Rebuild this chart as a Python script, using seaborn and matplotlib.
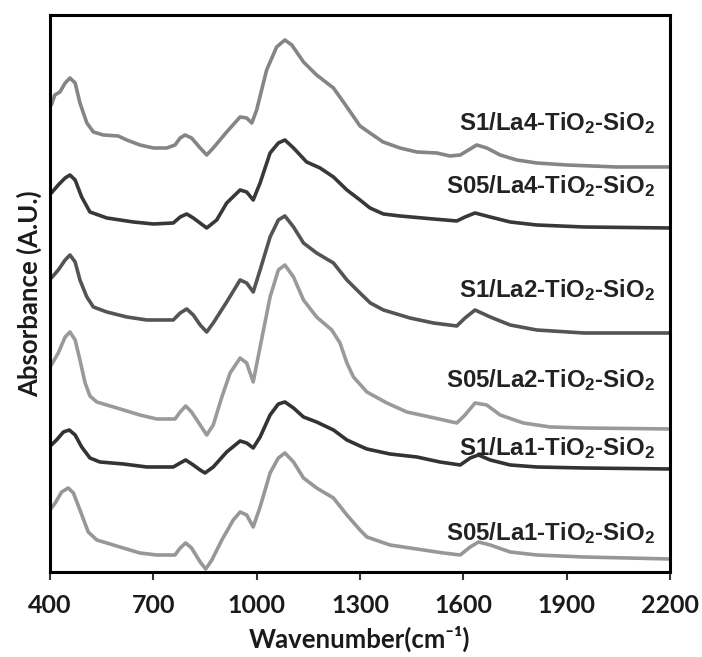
import matplotlib
matplotlib.use("Agg")
import matplotlib.pyplot as plt
import seaborn as sns
import pandas as pd

# FTIR spectra (wavenumber in cm^-1, stacked absorbance in arbitrary units)
SAMPLES = [
    "S1/La4-TiO$_2$-SiO$_2$",
    "S05/La4-TiO$_2$-SiO$_2$",
    "S1/La2-TiO$_2$-SiO$_2$",
    "S05/La2-TiO$_2$-SiO$_2$",
    "S1/La1-TiO$_2$-SiO$_2$",
    "S05/La1-TiO$_2$-SiO$_2$",
]

WN_S1_LA4 = [404, 414, 429, 444, 458, 473, 487, 507, 526, 555, 598, 623, 661, 700, 739, 763, 778, 792, 811, 836,
             855, 874, 913, 952, 971, 986, 1000, 1029, 1058, 1082, 1102, 1136, 1174, 1223, 1262, 1300, 1329, 1367,
             1416, 1465, 1523, 1561, 1591, 1615, 1639, 1668, 1707, 1755, 1813, 1900, 2045, 2200]
A_S1_LA4 = [4.67, 4.77, 4.80, 4.89, 4.94, 4.89, 4.69, 4.49, 4.40, 4.37, 4.36, 4.32, 4.27, 4.24, 4.24, 4.27, 4.34,
            4.37, 4.34, 4.24, 4.17, 4.24, 4.40, 4.55, 4.54, 4.49, 4.62, 5.02, 5.25, 5.32, 5.27, 5.10, 4.97, 4.84,
            4.65, 4.46, 4.39, 4.30, 4.24, 4.20, 4.19, 4.16, 4.17, 4.22, 4.27, 4.24, 4.17, 4.12, 4.09, 4.07, 4.05, 4.05]

WN_S05_LA4 = [404, 424, 444, 458, 473, 492, 516, 565, 642, 700, 758, 778, 797, 816, 855, 884, 913, 952, 971, 990,
              1010, 1039, 1063, 1082, 1107, 1145, 1184, 1223, 1262, 1300, 1329, 1368, 1416, 1513, 1581, 1605, 1634,
              1678, 1736, 1813, 1949, 2200]
A_S05_LA4 = [3.79, 3.87, 3.94, 3.97, 3.92, 3.75, 3.60, 3.54, 3.50, 3.48, 3.49, 3.55, 3.58, 3.54, 3.44, 3.52, 3.69,
             3.82, 3.80, 3.72, 3.89, 4.19, 4.29, 4.32, 4.24, 4.10, 4.04, 3.95, 3.82, 3.72, 3.64, 3.58, 3.56, 3.53,
             3.51, 3.55, 3.59, 3.55, 3.50, 3.47, 3.45, 3.44]

WN_S1_LA2 = [404, 424, 444, 458, 473, 487, 507, 526, 565, 623, 681, 758, 778, 797, 816, 836, 855, 874, 913, 952,
             971, 990, 1010, 1039, 1063, 1082, 1107, 1136, 1174, 1223, 1262, 1300, 1330, 1368, 1445, 1513, 1581,
             1605, 1634, 1678, 1736, 1813, 1949, 2200]
A_S1_LA2 = [2.94, 3.02, 3.12, 3.17, 3.10, 2.92, 2.75, 2.65, 2.60, 2.55, 2.52, 2.52, 2.59, 2.63, 2.57, 2.47, 2.40,
            2.49, 2.70, 2.92, 2.89, 2.80, 3.02, 3.35, 3.52, 3.56, 3.45, 3.29, 3.19, 3.09, 2.92, 2.79, 2.69, 2.62,
            2.54, 2.49, 2.46, 2.54, 2.62, 2.55, 2.47, 2.42, 2.39, 2.39]

WN_S05_LA2 = [404, 424, 444, 458, 473, 487, 502, 516, 536, 594, 661, 710, 763, 778, 794, 811, 836, 855, 874, 899,
              923, 952, 971, 990, 1010, 1039, 1063, 1082, 1107, 1136, 1174, 1218, 1242, 1262, 1281, 1320, 1378,
              1436, 1503, 1581, 1605, 1634, 1668, 1707, 1774, 1852, 1949, 2200]
A_S05_LA2 = [2.07, 2.19, 2.35, 2.40, 2.32, 2.12, 1.89, 1.76, 1.70, 1.64, 1.57, 1.53, 1.53, 1.60, 1.66, 1.60, 1.47,
             1.37, 1.47, 1.75, 1.99, 2.14, 2.09, 1.90, 2.25, 2.75, 3.02, 3.07, 2.95, 2.72, 2.55, 2.42, 2.29, 2.09,
             1.95, 1.80, 1.69, 1.60, 1.55, 1.49, 1.57, 1.69, 1.67, 1.57, 1.49, 1.45, 1.44, 1.43]

WN_S1_LA1 = [404, 419, 439, 456, 473, 492, 516, 545, 613, 681, 758, 778, 794, 816, 836, 850, 874, 913, 952, 971,
             990, 1010, 1039, 1063, 1082, 1107, 1136, 1174, 1223, 1262, 1300, 1320, 1387, 1465, 1532, 1591, 1620,
             1644, 1678, 1736, 1813, 1949, 2200]
A_S1_LA1 = [1.27, 1.32, 1.40, 1.42, 1.37, 1.25, 1.14, 1.10, 1.08, 1.05, 1.05, 1.09, 1.12, 1.07, 1.02, 0.99, 1.05,
            1.20, 1.31, 1.29, 1.24, 1.35, 1.57, 1.68, 1.70, 1.64, 1.55, 1.50, 1.42, 1.32, 1.26, 1.23, 1.18, 1.15,
            1.10, 1.07, 1.14, 1.17, 1.12, 1.07, 1.05, 1.04, 1.03]

WN_S05_LA1 = [400, 415, 434, 453, 468, 487, 511, 536, 603, 661, 710, 763, 778, 794, 811, 836, 852, 870, 899, 932,
              952, 971, 990, 1010, 1039, 1063, 1082, 1107, 1136, 1174, 1223, 1262, 1300, 1320, 1387, 1465, 1542,
              1591, 1620, 1644, 1678, 1736, 1813, 1949, 2200]
A_S05_LA1 = [0.62, 0.69, 0.80, 0.84, 0.79, 0.62, 0.40, 0.32, 0.25, 0.19, 0.17, 0.17, 0.24, 0.29, 0.24, 0.10, 0.03,
             0.12, 0.32, 0.52, 0.60, 0.57, 0.45, 0.65, 0.99, 1.14, 1.19, 1.10, 0.94, 0.84, 0.74, 0.57, 0.42, 0.35,
             0.27, 0.23, 0.19, 0.17, 0.25, 0.30, 0.27, 0.20, 0.17, 0.15, 0.13]

X_TICKS = [400, 700, 1000, 1300, 1600, 1900, 2200]

SPECTRA = [
    (WN_S1_LA4, A_S1_LA4),
    (WN_S05_LA4, A_S05_LA4),
    (WN_S1_LA2, A_S1_LA2),
    (WN_S05_LA2, A_S05_LA2),
    (WN_S1_LA1, A_S1_LA1),
    (WN_S05_LA1, A_S05_LA1),
]

COLORS = ["#858585", "#383838", "#545454", "#9a9a9a", "#333333", "#979797"]
# baseline height of each sample label, in absorbance units
LABEL_Y = [4.42, 3.79, 2.75, 1.85, 1.17, 0.32]

rows = []
for name, (wn, ab) in zip(SAMPLES, SPECTRA):
    for w, a in zip(wn, ab):
        rows.append({"sample": name, "wavenumber": w, "absorbance": a})
df = pd.DataFrame(rows)

sns.set_theme(style="white")
plt.rcParams["font.family"] = ["Liberation Sans", "DejaVu Sans"]
plt.rcParams["mathtext.fontset"] = "custom"
plt.rcParams["mathtext.rm"] = "Liberation Sans:bold"
plt.rcParams["mathtext.it"] = "Liberation Sans:bold"
plt.rcParams["mathtext.bf"] = "Liberation Sans:bold"
plt.rcParams["mathtext.default"] = "rm"

fig = plt.figure(figsize=(7.02, 6.57), dpi=100)
ax = fig.add_axes([0.0712, 0.1294, 0.8832, 0.8478])

sns.lineplot(
    data=df, x="wavenumber", y="absorbance", hue="sample",
    palette=dict(zip(SAMPLES, COLORS)), hue_order=SAMPLES,
    estimator=None, sort=False, legend=False, linewidth=2.6, ax=ax,
)
for line in ax.get_lines():
    line.set_solid_joinstyle("round")
    line.set_solid_capstyle("round")

for name, y in zip(SAMPLES, LABEL_Y):
    ax.text(2157, y, name, ha="right", va="baseline", fontsize=17.3,
            fontweight="bold", color="#222222")

ax.set_xlim(400, 2200)
ax.set_ylim(0, 5.57)
ax.set_xticks(X_TICKS)
ax.set_yticks([])
label_font = ["Lato", "DejaVu Sans"]
ax.set_xticklabels([str(t) for t in X_TICKS], fontsize=18, fontweight="bold", family=label_font)
ax.tick_params(axis="x", direction="out", length=6, width=1.5, color="#333333", pad=10,
               labelcolor="#1a1a1a", bottom=True)
ax.set_xlabel("Wavenumber(cm\u207b\u00b9)", fontsize=18.5, fontweight="bold", family=label_font,
              color="#1a1a1a", labelpad=6)
ax.set_ylabel("Absorbance (A.U.)", fontsize=18.5, fontweight="bold", family=label_font,
              color="#1a1a1a", labelpad=6)

for s in ax.spines.values():
    s.set_color("black")
    s.set_linewidth(2.2)
    s.set_visible(True)

fig.savefig("out.png", dpi=100)
